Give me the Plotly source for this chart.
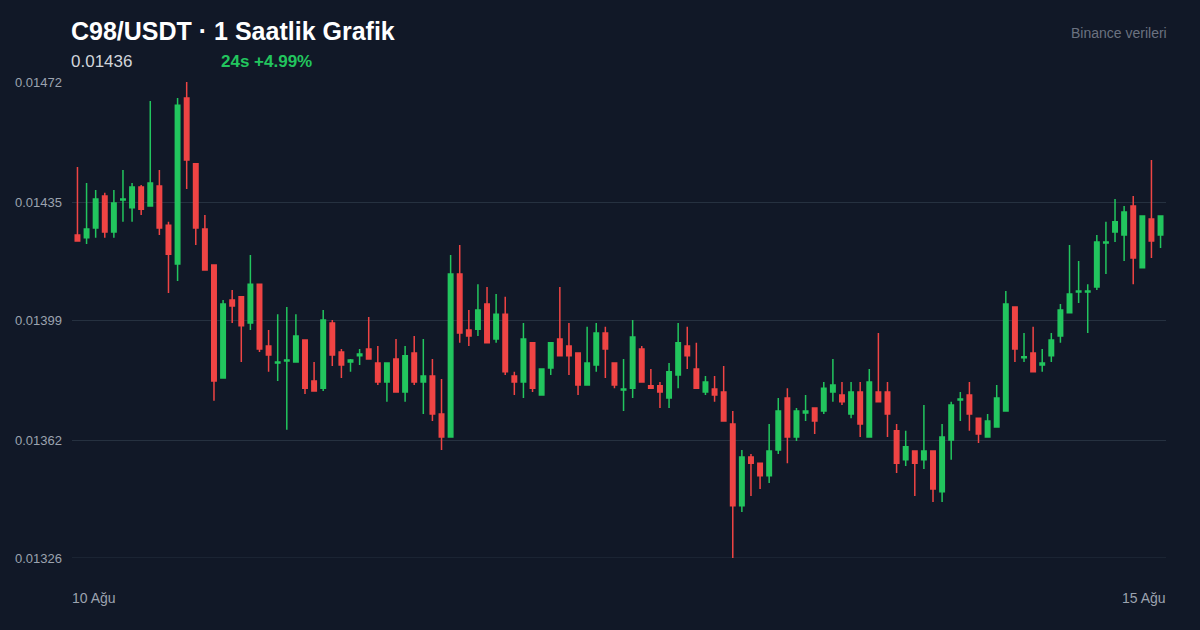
import plotly.graph_objects as go

opens = [0.014251,0.014242,0.014272,0.014370,0.014260,0.014358,0.014334,0.014398,0.014340,0.014401,
 0.014281,0.014162,0.014671,0.014469,0.014269,0.014159,0.013812,0.014051,0.014061,0.013981,
 0.014100,0.013910,0.013858,0.013864,0.013861,0.013929,0.013803,0.013781,0.013981,0.013892,
 0.013861,0.013880,0.013901,0.013858,0.013800,0.013870,0.013769,0.013889,0.013800,0.013818,
 0.013702,0.013631,0.014131,0.013959,0.013962,0.014039,0.013932,0.014008,0.013818,0.013800,
 0.013920,0.013760,0.013843,0.013932,0.013910,0.013889,0.013791,0.013852,0.013950,0.013858,
 0.013775,0.013781,0.013901,0.013788,0.013788,0.013751,0.013821,0.013910,0.013840,0.013769,
 0.013778,0.013769,0.013671,0.013420,0.013570,0.013551,0.013512,0.013591,0.013751,0.013631,
 0.013705,0.013720,0.013711,0.013769,0.013760,0.013702,0.013769,0.013631,0.013769,0.013769,
 0.013650,0.013561,0.013588,0.013561,0.013588,0.013463,0.013622,0.013745,0.013760,0.013689,
 0.013631,0.013662,0.013711,0.014030,0.013874,0.013889,0.013852,0.013880,0.013941,0.014012,
 0.014076,0.014076,0.014091,0.014226,0.014260,0.014251,0.014340,0.014150,0.014300,0.014251]
highs = [0.014459,0.014410,0.014389,0.014380,0.014389,0.014450,0.014410,0.014404,0.014662,0.014450,
 0.014291,0.014671,0.014720,0.014469,0.014312,0.014159,0.014051,0.014082,0.014061,0.014189,
 0.014100,0.013959,0.014008,0.014030,0.014008,0.013929,0.013861,0.014021,0.013990,0.013901,
 0.013870,0.013901,0.013999,0.013910,0.013858,0.013932,0.013910,0.013941,0.013932,0.013870,
 0.013809,0.014189,0.014220,0.014021,0.014100,0.014091,0.014070,0.014061,0.013831,0.013981,
 0.013920,0.013840,0.013920,0.014091,0.013981,0.013889,0.013969,0.013981,0.013969,0.013858,
 0.013870,0.013990,0.013910,0.013840,0.013800,0.013858,0.013981,0.013969,0.013920,0.013818,
 0.013818,0.013849,0.013711,0.013591,0.013579,0.013551,0.013671,0.013751,0.013781,0.013720,
 0.013760,0.013720,0.013800,0.013870,0.013800,0.013800,0.013800,0.013840,0.013950,0.013800,
 0.013671,0.013650,0.013588,0.013729,0.013588,0.013671,0.013739,0.013769,0.013800,0.013689,
 0.013702,0.013791,0.014079,0.014030,0.013950,0.013969,0.013901,0.013950,0.014039,0.014220,
 0.014171,0.014100,0.014251,0.014291,0.014361,0.014340,0.014370,0.014309,0.014481,0.014309]
lows = [0.014232,0.014223,0.014242,0.014242,0.014242,0.014291,0.014291,0.014312,0.014340,0.014251,
 0.014073,0.014110,0.014392,0.014220,0.014143,0.013742,0.013812,0.013981,0.013861,0.013959,
 0.013892,0.013831,0.013803,0.013653,0.013861,0.013763,0.013772,0.013772,0.013849,0.013812,
 0.013831,0.013852,0.013870,0.013791,0.013739,0.013769,0.013739,0.013791,0.013702,0.013680,
 0.013591,0.013631,0.013920,0.013910,0.013941,0.013920,0.013920,0.013821,0.013760,0.013751,
 0.013769,0.013760,0.013821,0.013880,0.013821,0.013760,0.013791,0.013831,0.013812,0.013781,
 0.013711,0.013751,0.013800,0.013781,0.013720,0.013720,0.013781,0.013840,0.013781,0.013760,
 0.013739,0.013680,0.013260,0.013401,0.013450,0.013472,0.013490,0.013579,0.013551,0.013619,
 0.013680,0.013640,0.013702,0.013739,0.013729,0.013689,0.013631,0.013631,0.013739,0.013631,
 0.013521,0.013542,0.013450,0.013533,0.013432,0.013432,0.013561,0.013680,0.013650,0.013613,
 0.013631,0.013662,0.013711,0.013861,0.013861,0.013831,0.013831,0.013861,0.013920,0.014012,
 0.014042,0.013950,0.014082,0.014131,0.014229,0.014171,0.014100,0.014150,0.014180,0.014211]
closes = [0.014232,0.014269,0.014361,0.014260,0.014349,0.014361,0.014398,0.014330,0.014410,0.014272,
 0.014192,0.014649,0.014481,0.014272,0.014143,0.013803,0.014039,0.014033,0.013972,0.014100,
 0.013901,0.013883,0.013861,0.013867,0.013941,0.013781,0.013772,0.013990,0.013883,0.013852,
 0.013867,0.013886,0.013870,0.013800,0.013858,0.013769,0.013880,0.013800,0.013818,0.013702,
 0.013631,0.014131,0.013950,0.013941,0.014021,0.013920,0.014008,0.013831,0.013800,0.013932,
 0.013781,0.013840,0.013920,0.013880,0.013880,0.013791,0.013858,0.013950,0.013901,0.013791,
 0.013778,0.013938,0.013800,0.013781,0.013769,0.013831,0.013920,0.013880,0.013781,0.013800,
 0.013760,0.013680,0.013420,0.013570,0.013551,0.013512,0.013588,0.013711,0.013631,0.013711,
 0.013711,0.013680,0.013781,0.013791,0.013739,0.013769,0.013671,0.013800,0.013739,0.013702,
 0.013551,0.013601,0.013551,0.013588,0.013472,0.013631,0.013729,0.013748,0.013702,0.013640,
 0.013680,0.013751,0.014039,0.013901,0.013877,0.013831,0.013858,0.013929,0.014021,0.014070,
 0.014079,0.014079,0.014229,0.014229,0.014291,0.014321,0.014180,0.014309,0.014232,0.014309]
hours = list(range(len(opens)))
ytick_vals = [0.01326, 0.01362, 0.01399, 0.01435, 0.01472]
ytick_text = ["0.01326", "0.01362", "0.01399", "0.01435", "0.01472"]
xlabels = ["10 Ağu", "15 Ağu"]

BG = "#111827"
GREEN = "#22c55e"
RED = "#ef4444"
GRID = "#263140"
W = 1094.0
px = lambda p: p / W  # pixel offset -> paper fraction (layout only)

fig = go.Figure(go.Candlestick(
    x=hours, open=opens, high=highs, low=lows, close=closes,
    increasing=dict(line=dict(color=GREEN, width=1.5), fillcolor=GREEN),
    decreasing=dict(line=dict(color=RED, width=1.5), fillcolor=RED),
    whiskerwidth=0, showlegend=False, hoverinfo="skip"))

ann = []
for v, t in zip(ytick_vals, ytick_text):
    ann.append(dict(x=px(15 - 72 - 2), xref="paper", y=v, yref="y",
                    text=t, showarrow=False, xanchor="left", yanchor="middle",
                    font=dict(size=13, color="#9ca3af")))
ann += [
    dict(x=px(-2), xref="paper", y=-0.085, yref="paper", text=xlabels[0], showarrow=False,
         xanchor="left", yanchor="middle", font=dict(size=14, color="#9ca3af")),
    dict(x=1 + px(2), xref="paper", y=-0.085, yref="paper", text=xlabels[1], showarrow=False,
         xanchor="right", yanchor="middle", font=dict(size=14, color="#9ca3af")),
    dict(x=px(-3), xref="paper", y=1.108, yref="paper", text="<b>C98/USDT · 1 Saatlik Grafik</b>",
         showarrow=False, xanchor="left", yanchor="middle", font=dict(size=25, color="#ffffff")),
    dict(x=px(-3), xref="paper", y=1.044, yref="paper", text="0.01436", showarrow=False,
         xanchor="left", yanchor="middle", font=dict(size=17, color="#d1d5db")),
    dict(x=px(222 - 72 - 3), xref="paper", y=1.044, yref="paper", text="<b>24s +4.99%</b>",
         showarrow=False, xanchor="left", yanchor="middle", font=dict(size=17, color=GREEN)),
    dict(x=1 + px(3), xref="paper", y=1.103, yref="paper", text="Binance verileri", showarrow=False,
         xanchor="right", yanchor="middle", font=dict(size=14, color="#6b7280")),
]

fig.update_layout(
    width=1200, height=630, paper_bgcolor=BG, plot_bgcolor=BG,
    margin=dict(l=72, r=34, t=82, b=72),
    font=dict(family="Liberation Sans, Arial, Helvetica, sans-serif"),
    xaxis=dict(range=[-0.6, len(opens)-0.4], showgrid=False, zeroline=False,
               showticklabels=False, rangeslider=dict(visible=False), fixedrange=True),
    yaxis=dict(range=[0.01326, 0.01472], tickvals=ytick_vals, showticklabels=False,
               gridcolor=GRID, gridwidth=1, zeroline=False, fixedrange=True),
    annotations=ann,
    shapes=[dict(type="line", xref="paper", x0=0, x1=1, yref="y", y0=0.01326, y1=0.01326,
                 line=dict(color=GRID, width=1), layer="below")],
)
fig.write_html("out.html", config={"displayModeBar": False})
with open("out.html", encoding="utf-8") as f:
    html = f.read()
html = html.replace("<body>", '<body style="margin:0;padding:0;background:#111827;overflow:hidden">', 1)
with open("out.html", "w", encoding="utf-8") as f:
    f.write(html)
